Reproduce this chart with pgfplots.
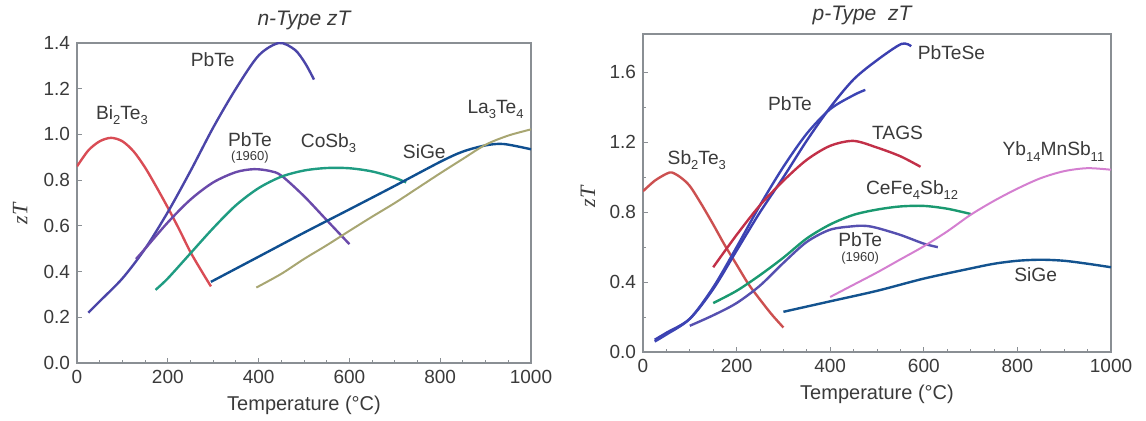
\documentclass[border=0pt]{standalone}
\usepackage{fontspec}
\setmainfont{Liberation Sans}
\newfontfamily\serif{Liberation Serif}
\usepackage{pgfplots}
\pgfplotsset{compat=1.18}
\definecolor{axgray}{HTML}{8A8F94}
\definecolor{txt}{HTML}{3A3A3A}
\definecolor{nBi}{HTML}{D94C55}
\definecolor{nPb}{HTML}{4B45A8}
\definecolor{nPbo}{HTML}{6A4AAA}
\definecolor{nCo}{HTML}{1F9C82}
\definecolor{nSi}{HTML}{0F4F90}
\definecolor{nLa}{HTML}{A8A672}
\definecolor{pSb}{HTML}{CC5050}
\definecolor{pPbSe}{HTML}{3B3FB0}
\definecolor{pPb}{HTML}{3C44B4}
\definecolor{pTA}{HTML}{C23048}
\definecolor{pCe}{HTML}{1A9970}
\definecolor{pPbo}{HTML}{5650B0}
\definecolor{pYb}{HTML}{D47FD0}
\definecolor{pSi}{HTML}{13538F}
\newcommand\sub[1]{\raisebox{-0.5ex}{\fontsize{6.5}{7}\selectfont #1}}
\tikzset{
  lbl/.style={font=\fontsize{9.6}{11}\selectfont, text=txt},
  yr/.style={font=\fontsize{6.5}{7}\selectfont, text=txt},
}
\pgfplotsset{zstyle/.style={
  scale only axis,
  axis line style={draw=axgray, line width=0.6pt},
  xmin=0, xmax=1000, ymin=0,
  xtick={0,200,...,1000}, minor x tick num=3,
  tick align=inside, xtick pos=bottom, ytick pos=left,
  major tick length=2.5pt, minor tick length=1.5pt,
  tick style={draw=axgray, line width=0.5pt},
  ticklabel style={font=\fontsize{9.5}{10}\selectfont, text=txt},
  /pgf/number format/assume math mode=true,
  yticklabel style={/pgf/number format/fixed, /pgf/number format/fixed zerofill, /pgf/number format/precision=1},
  xticklabel style={/pgf/number format/1000 sep={}},
  xlabel={Temperature (°C)},
  xlabel style={font=\fontsize{10}{12}\selectfont, text=txt, at={(axis description cs:0.5,0)}, anchor=center, yshift=-21pt},
  ylabel={zT},
  title style={font=\itshape\fontsize{10.5}{12}\selectfont, text=txt, anchor=center},
  every axis plot/.append style={line width=1.2pt, smooth, no markers},
}}
\begin{document}
\begin{tikzpicture}
\useasboundingbox (0,0) rectangle (573pt,210.5pt);
% ---------------- n-type ----------------
\begin{axis}[zstyle, at={(38.5pt,29pt)}, anchor=south west,
  width=227pt, height=160pt, ymax=1.4,
  ytick={0,0.2,...,1.4},
  ylabel style={font=\serif\itshape\fontsize{11}{12}\selectfont, text=txt, at={(axis description cs:-0.125,0.5)}, anchor=center, xshift=-5.5pt},
  title={n-Type zT}, title style={at={(axis description cs:0.5,1)}, yshift=5.5pt}]
\addplot[nBi] coordinates {(0,0.86)(25,0.93)(50,0.97)(75,0.985)(100,0.97)(125,0.925)(150,0.855)(175,0.77)(200,0.68)(225,0.585)(250,0.485)(275,0.40)(295,0.335)};
\addplot[nPb] coordinates {(25,0.22)(50,0.27)(100,0.37)(150,0.50)(200,0.66)(250,0.84)(300,1.03)(350,1.20)(400,1.345)(445,1.40)(480,1.37)(503,1.31)(522,1.24)};
\addplot[nPbo] coordinates {(130,0.455)(150,0.50)(200,0.615)(250,0.715)(300,0.79)(350,0.835)(390,0.848)(425,0.84)(450,0.82)(500,0.73)(550,0.625)(600,0.52)};
\addplot[nCo] coordinates {(173,0.32)(200,0.37)(250,0.48)(300,0.59)(350,0.69)(400,0.765)(450,0.815)(500,0.842)(550,0.853)(600,0.852)(650,0.838)(700,0.81)(725,0.79)};
\addplot[nSi] coordinates {(295,0.355)(400,0.465)(500,0.57)(600,0.672)(700,0.775)(800,0.88)(850,0.925)(900,0.952)(940,0.958)(1000,0.935)};
\addplot[nLa, line width=1pt] coordinates {(395,0.33)(450,0.39)(500,0.455)(550,0.515)(600,0.578)(650,0.64)(700,0.70)(750,0.765)(800,0.83)(850,0.893)(900,0.955)(950,0.995)(1000,1.022)};
\node[lbl] at (axis cs:99,1.086) {Bi\sub{2}Te\sub{3}};
\node[lbl] at (axis cs:299,1.327) {PbTe};
\node[lbl] at (axis cs:381,0.977) {PbTe};
\node[yr] at (axis cs:381,0.90) {(1960)};
\node[lbl] at (axis cs:554,0.962) {CoSb\sub{3}};
\node[lbl] at (axis cs:765,0.925) {SiGe};
\node[lbl] at (axis cs:922,1.108) {La\sub{3}Te\sub{4}};
\end{axis}
% ---------------- p-type ----------------
\begin{axis}[zstyle, at={(321.5pt,34.5pt)}, anchor=south west,
  width=234pt, height=159pt, ymax=1.82,
  ytick={0,0.4,...,1.6}, minor y tick num=1,
  ylabel style={font=\serif\itshape\fontsize{11}{12}\selectfont, text=txt, at={(axis description cs:-0.1175,0.5)}, anchor=center, xshift=-2pt},
  title={p-Type\ \ zT}, title style={at={(axis description cs:0.5,1)}, xshift=-7.5pt, yshift=3.5pt}]
\addplot[pSb] coordinates {(0,0.92)(25,0.98)(50,1.02)(62,1.027)(80,1.00)(100,0.95)(125,0.845)(150,0.73)(175,0.61)(200,0.50)(225,0.39)(250,0.30)(275,0.215)(300,0.14)};
\addplot[pPbSe] coordinates {(25,0.07)(50,0.11)(100,0.19)(150,0.36)(200,0.58)(250,0.80)(300,1.00)(350,1.21)(400,1.40)(450,1.56)(500,1.67)(552,1.763)(573,1.75)};
\addplot[pPb] coordinates {(25,0.06)(50,0.10)(100,0.19)(150,0.37)(200,0.60)(250,0.84)(300,1.06)(350,1.25)(400,1.39)(450,1.47)(475,1.50)};
\addplot[pTA] coordinates {(150,0.485)(200,0.67)(250,0.84)(300,0.98)(350,1.10)(400,1.18)(450,1.208)(500,1.17)(550,1.12)(593,1.06)};
\addplot[pCe] coordinates {(150,0.28)(200,0.35)(250,0.44)(300,0.54)(350,0.65)(400,0.73)(450,0.785)(500,0.815)(550,0.833)(600,0.836)(650,0.82)(700,0.79)};
\addplot[pPbo] coordinates {(100,0.15)(150,0.21)(200,0.28)(250,0.38)(300,0.51)(350,0.63)(400,0.70)(450,0.72)(475,0.722)(500,0.71)(550,0.67)(600,0.62)(630,0.60)};
\addplot[pYb, line width=1pt] coordinates {(400,0.315)(450,0.385)(500,0.455)(550,0.53)(600,0.605)(650,0.69)(700,0.785)(750,0.865)(800,0.935)(850,0.995)(900,1.035)(950,1.052)(1000,1.043)};
\addplot[pSi] coordinates {(300,0.23)(400,0.29)(500,0.35)(600,0.42)(700,0.478)(750,0.505)(800,0.522)(850,0.528)(900,0.522)(950,0.505)(1000,0.485)};
\node[lbl] at (axis cs:115,1.10) {Sb\sub{2}Te\sub{3}};
\node[lbl] at (axis cs:659,1.711) {PbTeSe};
\node[lbl] at (axis cs:314,1.42) {PbTe};
\node[lbl] at (axis cs:544,1.252) {TAGS};
\node[lbl] at (axis cs:877,1.147) {Yb\sub{14}MnSb\sub{11}};
\node[lbl] at (axis cs:575,0.927) {CeFe\sub{4}Sb\sub{12}};
\node[lbl] at (axis cs:464,0.644) {PbTe};
\node[yr] at (axis cs:464,0.535) {(1960)};
\node[lbl] at (axis cs:839,0.44) {SiGe};
\end{axis}
\end{tikzpicture}
\end{document}
